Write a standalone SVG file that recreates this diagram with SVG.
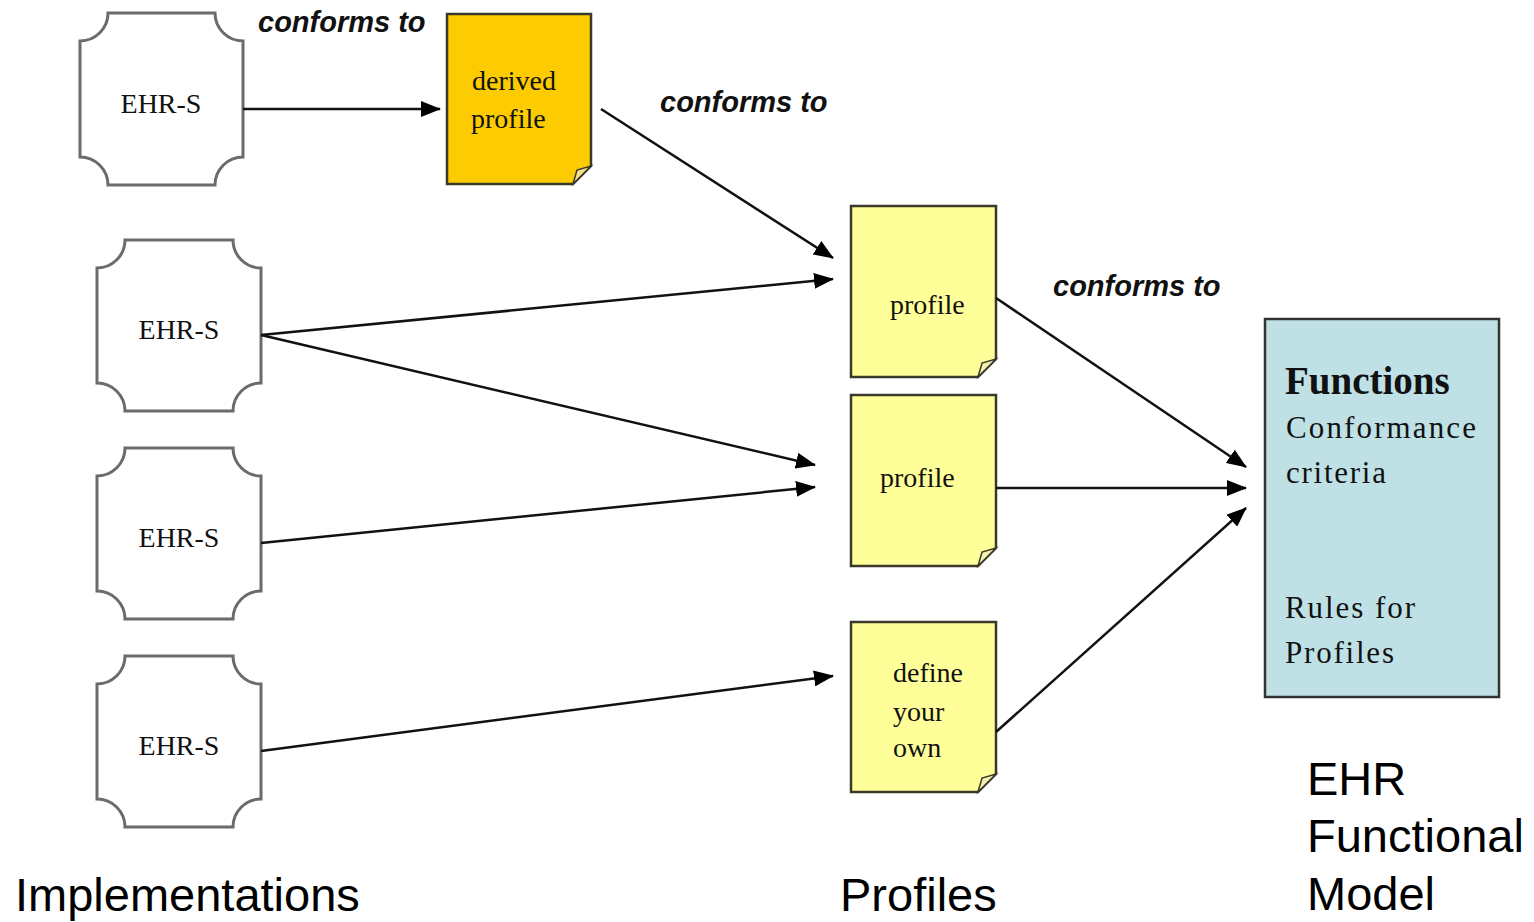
<svg xmlns="http://www.w3.org/2000/svg" width="1534" height="922" viewBox="0 0 1534 922">
<style>
.plaque{fill:#fff;stroke:#6b6b6b;stroke-width:3}
.note{stroke:#3a3a2a;stroke-width:2.5}
.fold{stroke:#3a3a2a;stroke-width:1.5}
.nt{font-family:"Liberation Serif","Times New Roman",serif;font-size:28px;fill:#111}
.lbl{font-family:"Liberation Sans",Arial,sans-serif;font-weight:bold;font-style:italic;font-size:29px;fill:#111}
.big{font-family:"Liberation Sans",Arial,sans-serif;font-size:47px;fill:#000}
.fm{font-family:"Liberation Serif","Times New Roman",serif;font-size:31px;fill:#111}
.fh{font-family:"Liberation Serif","Times New Roman",serif;font-size:39px;font-weight:bold;fill:#111}
.edge{stroke:#111;stroke-width:2.5;fill:none;marker-end:url(#ah)}
</style>
<defs>
<marker id="ah" markerUnits="userSpaceOnUse" markerWidth="20" markerHeight="16" refX="19" refY="8" orient="auto">
<path d="M0,0 L20,8 L0,16 Z" fill="#000"/>
</marker>
</defs>
<rect width="1534" height="922" fill="#fff"/>

<g id="ehrs1">
<path class="plaque" d="M108,13 H215 A28 28 0 0 0 243,41 V157 A28 28 0 0 0 215,185 H108 A28 28 0 0 0 80,157 V41 A28 28 0 0 0 108,13 Z"/>
<text class="nt" x="161" y="113" text-anchor="middle">EHR-S</text>
</g>
<g id="ehrs2">
<path class="plaque" d="M125,240 H233 A28 28 0 0 0 261,268 V383 A28 28 0 0 0 233,411 H125 A28 28 0 0 0 97,383 V268 A28 28 0 0 0 125,240 Z"/>
<text class="nt" x="179" y="339" text-anchor="middle">EHR-S</text>
</g>
<g id="ehrs3">
<path class="plaque" d="M125,448 H233 A28 28 0 0 0 261,476 V591 A28 28 0 0 0 233,619 H125 A28 28 0 0 0 97,591 V476 A28 28 0 0 0 125,448 Z"/>
<text class="nt" x="179" y="547" text-anchor="middle">EHR-S</text>
</g>
<g id="ehrs4">
<path class="plaque" d="M125,656 H233 A28 28 0 0 0 261,684 V799 A28 28 0 0 0 233,827 H125 A28 28 0 0 0 97,799 V684 A28 28 0 0 0 125,656 Z"/>
<text class="nt" x="179" y="755" text-anchor="middle">EHR-S</text>
</g>

<g id="derived">
<path class="note" fill="#fccc00" d="M447,14 H591 V166 L573,184 H447 Z"/>
<path class="fold" fill="#f3e08a" d="M573,184 L577,170 L591,166 Z"/>
<text class="nt" x="472" y="90">derived</text>
<text class="nt" x="471" y="128">profile</text>
</g>
<g id="profile1">
<path class="note" fill="#ffff99" d="M851,206 H996 V359 L978,377 H851 Z"/>
<path class="fold" fill="#f5f0b0" d="M978,377 L982,363 L996,359 Z"/>
<text class="nt" x="890" y="314">profile</text>
</g>
<g id="profile2">
<path class="note" fill="#ffff99" d="M851,395 H996 V548 L978,566 H851 Z"/>
<path class="fold" fill="#f5f0b0" d="M978,566 L982,552 L996,548 Z"/>
<text class="nt" x="880" y="487">profile</text>
</g>
<g id="ownprofile">
<path class="note" fill="#ffff99" d="M851,622 H996 V774 L978,792 H851 Z"/>
<path class="fold" fill="#f5f0b0" d="M978,792 L982,778 L996,774 Z"/>
<text class="nt" x="893" y="682">define</text>
<text class="nt" x="893" y="721">your</text>
<text class="nt" x="893" y="757">own</text>
</g>
<g id="efm">
<rect x="1265" y="319" width="234" height="378" fill="#bfe1e6" stroke="#333" stroke-width="2.5"/>
<text class="fh" x="1285" y="394">Functions</text>
<text class="fm" x="1286" y="438" textLength="190">Conformance</text>
<text class="fm" x="1286" y="483" textLength="100">criteria</text>
<text class="fm" x="1285" y="618" textLength="130">Rules for</text>
<text class="fm" x="1285" y="663" textLength="109">Profiles</text>
</g>

<g id="connectors">
<line class="edge" x1="243" y1="109" x2="440" y2="109"/>
<line class="edge" x1="601" y1="109" x2="833" y2="258"/>
<line class="edge" x1="261" y1="335" x2="833" y2="279"/>
<line class="edge" x1="261" y1="335" x2="815" y2="465"/>
<line class="edge" x1="261" y1="543" x2="815" y2="487"/>
<line class="edge" x1="261" y1="751" x2="833" y2="676"/>
<line class="edge" x1="996" y1="298" x2="1246" y2="467"/>
<line class="edge" x1="996" y1="488" x2="1246" y2="488"/>
<line class="edge" x1="996" y1="732" x2="1246" y2="508"/>
</g>

<g id="labels">
<text class="lbl" x="258" y="32">conforms to</text>
<text class="lbl" x="660" y="112">conforms to</text>
<text class="lbl" x="1053" y="296">conforms to</text>
<text class="big" x="15" y="911">Implementations</text>
<text class="big" x="840" y="911">Profiles</text>
<text class="big" x="1307" y="795">EHR</text>
<text class="big" x="1307" y="852">Functional</text>
<text class="big" x="1307" y="910">Model</text>
</g>
</svg>
